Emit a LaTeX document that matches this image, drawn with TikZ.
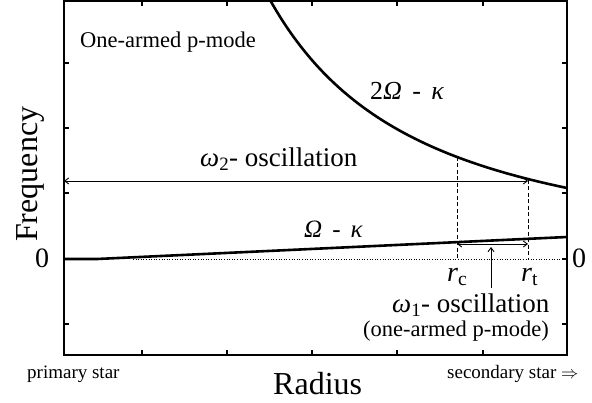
\documentclass[tikz,border=0pt]{standalone}
\usepackage{fontspec}
\setmainfont{Liberation Serif}
\usepackage{tikz}
\usetikzlibrary{arrows.meta}
\newcommand{\fsz}[1]{\fontsize{#1}{#1}\selectfont}
\newcommand{\gap}{\hspace{0.4em}}

\begin{document}
\begin{tikzpicture}[x=1pt,y=-1pt,>={Straight Barb[length=4pt,width=6pt]},
    lbl/.style={inner sep=0pt,anchor=base west},
    curve/.style={line width=2.6pt},
    guide/.style={line width=1pt,dash pattern=on 4pt off 2.5pt},
    thin/.style={line width=0.9pt},
    tick/.style={line width=1.2pt}]
  \useasboundingbox (0,0) rectangle (592,403);
  % frame and ticks
  \draw[line width=1.8pt] (64,1) rectangle (567,355);
  \foreach \y in {63,128,193,259,324} {
    \draw[tick] (64,\y) -- ++(5,0);
    \draw[tick] (567,\y) -- ++(-5,0);
  }
  \foreach \x in {142,227,312,397,483} {
    \draw[tick] (\x,355) -- ++(0,-5);
    \draw[tick] (\x,1) -- ++(0,5);
  }
  \draw[dotted,line width=0.6pt] (133,259) -- (567,259);
  % the two frequencies
  \begin{scope}
    \clip (64,1) rectangle (567,355);
    \draw[curve] plot[domain=266:568,samples=60]
      (\x,{259-71*exp(-1.515*ln((\x-50)/517))});
  \end{scope}
  \draw[curve] (64,259) -- (97,259) -- (567,237);
  % radii
  \coordinate (rcTop) at (457,157);
  \coordinate (rcLow) at (457,244);
  \coordinate (rcBot) at (457,260);
  \coordinate (rtTop) at (528,180);
  \coordinate (rtMid) at (528,181);
  \coordinate (rtLow) at (528,244);
  \coordinate (rtBot) at (528,260);
  \coordinate (axisL) at (64,181);
  \coordinate (pointer) at (491,288);
  \coordinate (pointerTip) at (491,247);
  \draw[guide] (rcTop) -- (rcBot);
  \draw[guide] (rtTop) -- (rtBot);
  \draw[thin,<->] (axisL) -- (rtMid);
  \draw[thin,<->] (rcLow) -- (rtLow);
  \draw[thin,->] (pointer) -- (pointerTip);
  % labels
  \node[lbl] (mode) at (80,48) {\fsz{22.5}One-armed p-mode};
  \node[lbl] (outer) at (370,100) {\fsz{26}2\textit{Ω}\gap-\gap\textit{κ}};
  \node[lbl] (inner) at (304,238) {\fsz{25}\textit{Ω}\gap-\gap\textit{κ}};
  \node[lbl] (omtwo) at (200,167) {\fsz{27}\textit{ω}\textsubscript{2}- oscillation};
  \node[lbl] (rc) at (447,282) {\fsz{28}\textit{r}\textsubscript{c}};
  \node[lbl] (rt) at (521,282) {\fsz{28}\textit{r}\textsubscript{t}};
  \node[lbl] (omone) at (392,313) {\fsz{27}\textit{ω}\textsubscript{1}- oscillation};
  \node[lbl] (omnote) at (363,337) {\fsz{22.5}(one-armed p-mode)};
  \node[lbl] (zeroL) at (35,268) {\fsz{28}0};
  \node[lbl] (zeroR) at (572,268) {\fsz{28}0};
  \node[lbl,rotate=90] (ylab) at (37,242) {\fsz{32}Frequency};
  \node[lbl] (xlab) at (273,395) {\fsz{32}Radius};
  \node[lbl] (primary) at (27,378) {\fsz{19}primary star};
  \node[lbl] (secondary) at (447,378) {\fsz{19}secondary star $\Rightarrow$};
\end{tikzpicture}
\end{document}
